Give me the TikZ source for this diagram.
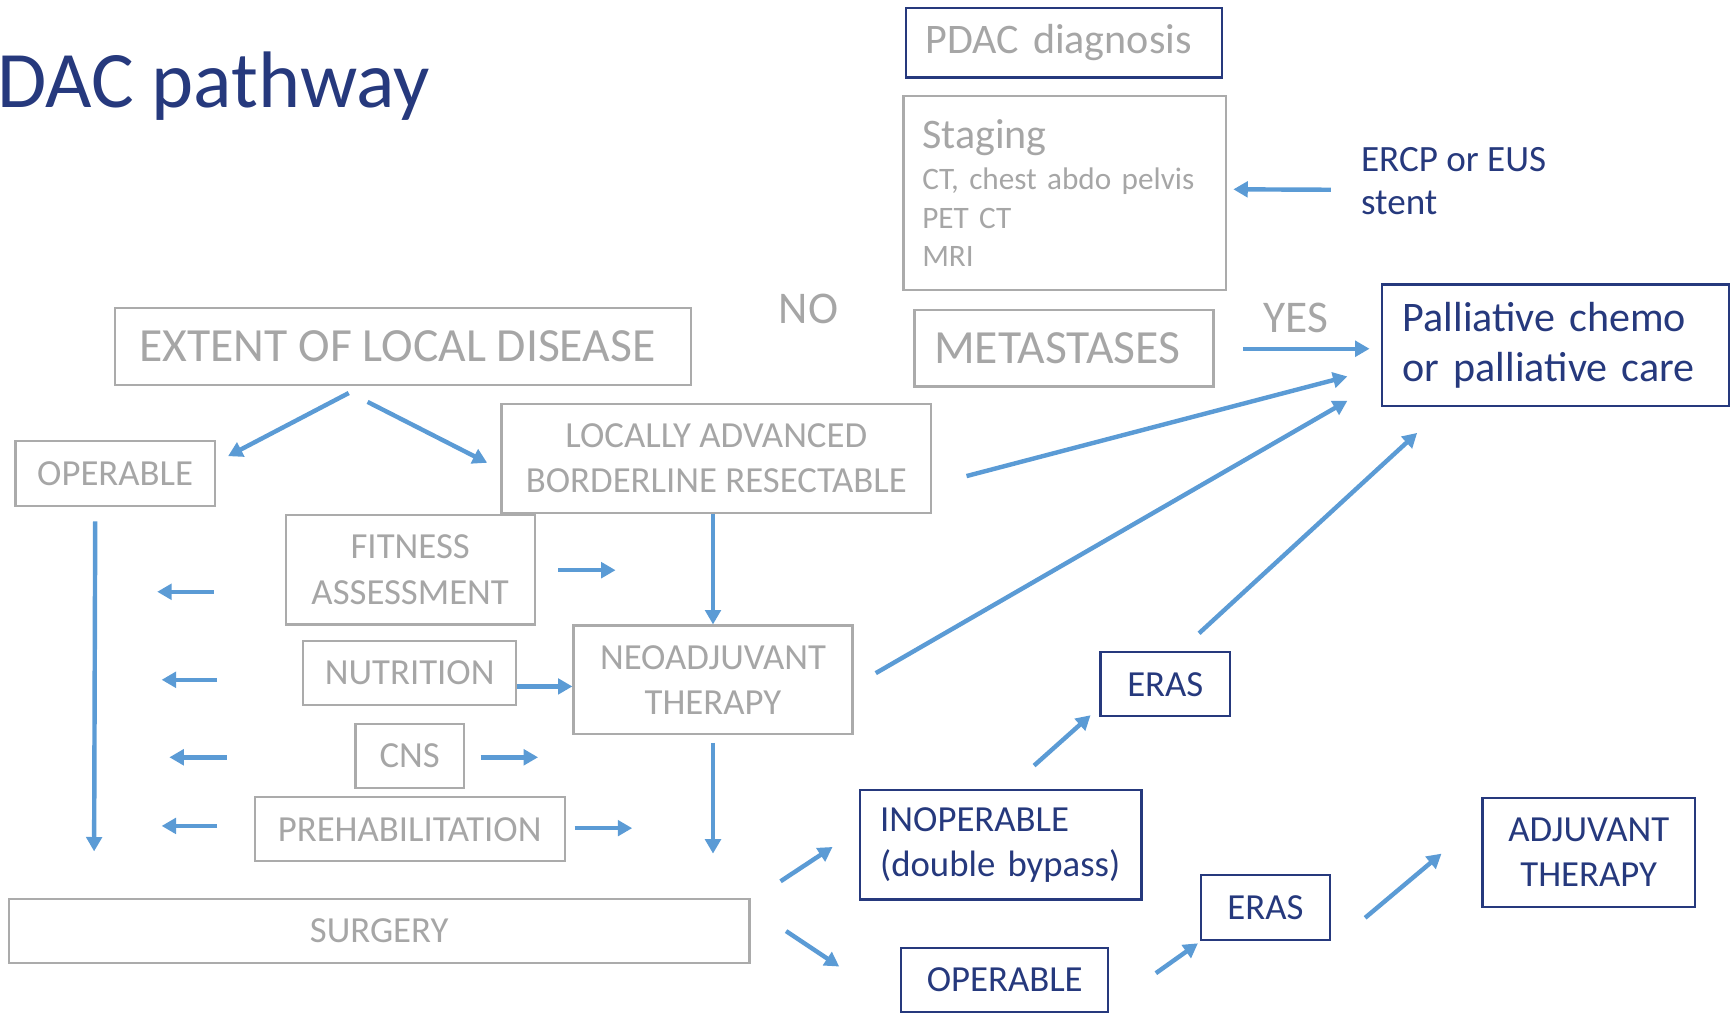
\documentclass[tikz,border=0pt]{standalone}
\usepackage{fontspec}
\setmainfont{Carlito}
\usetikzlibrary{calc,arrows.meta}
\definecolor{gtext}{HTML}{A6A6A6}
\definecolor{gline}{HTML}{ABABAB}
\definecolor{dblue}{RGB}{38,57,125}
\definecolor{ablue}{HTML}{5B9BD5}
\begin{document}
\begin{tikzpicture}[x=0.5pt,y=-0.5pt,
  gbox/.style={draw=gline, line width=1pt, text=gtext, inner sep=0pt, align=center},
  bbox/.style={draw=dblue, line width=1pt, text=dblue, inner sep=0pt, align=center},
  arr/.style={draw=ablue, line width=2pt, -{Triangle[length=6.5pt,width=7pt]}},
  fs/.style={font=\fontsize{16.6}{20.5}\selectfont},
  fb/.style={font=\fontsize{20.5}{24}\selectfont}]
\useasboundingbox (0,0) rectangle (1568,915);

% title
\node[anchor=base west, inner sep=0pt, text=dblue, font=\fontsize{36.2}{42}\selectfont] (title) at (-3,97) {DAC pathway};

% top column
\node[bbox, text=gtext, align=left, inner xsep=9pt, text width=125pt, minimum height=31.5pt,
      font=\fontsize{19}{22}\selectfont] (pdac) at (961,38.5) {PDAC diagnosis};
\node[gbox, align=left, inner xsep=8.5pt, text width=128.5pt, minimum height=87.5pt,
      font=\fontsize{14.1}{17.5}\selectfont] (staging) at (961.5,174.5)
      {{\fontsize{19}{22}\selectfont Staging}\\[1pt]CT, chest abdo pelvis\\PET CT\\MRI};
\node[anchor=north west, align=left, inner sep=0pt, text=dblue,
      font=\fontsize{16.75}{19.5}\selectfont] (ercp) at (1229,133) {ERCP or EUS\\stent};
\node[gbox, font=\fontsize{21.5}{25}\selectfont, minimum width=135pt, minimum height=34.5pt] (meta) at (961,314.5) {METASTASES\hspace*{6pt}};
\node[bbox, align=left, inner xsep=9.5pt, text width=138pt, minimum height=55pt,
      font=\fontsize{19}{22.5}\selectfont] (pall) at (1405,312) {Palliative chemo\\or palliative care};
\node[anchor=base west, inner sep=0pt, text=gtext, fb] (no) at (703,292) {NO};
\node[anchor=base west, inner sep=0pt, text=gtext, fb] (yes) at (1141,300) {YES};

% left part
\node[gbox, font=\fontsize{21.5}{25}\selectfont, minimum width=260pt, minimum height=35pt] (extent) at (364,313) {EXTENT OF LOCAL DISEASE\hspace*{5pt}};
\node[gbox, fs, minimum width=90pt, minimum height=29.5pt] (operL) at (104,427.5) {OPERABLE};
\node[gbox, fs, minimum width=194pt, minimum height=49pt] (LA) at (647,414) {LOCALLY ADVANCED\\BORDERLINE RESECTABLE};
\node[gbox, fs, minimum width=112.5pt, minimum height=49.5pt] (fitness) at (370.5,514.5) {FITNESS\\ASSESSMENT};
\node[gbox, fs, minimum width=126pt, minimum height=49pt] (neo) at (644,614) {NEOADJUVANT\\THERAPY};
\node[gbox, fs, minimum width=96pt, minimum height=29pt] (nutrition) at (370,608) {NUTRITION};
\node[gbox, fs, minimum width=49pt, minimum height=29pt] (cns) at (370,683) {CNS};
\node[gbox, fs, minimum width=140pt, minimum height=29pt] (prehab) at (370,749) {PREHABILITATION};
\node[gbox, fs, minimum width=334.5pt, minimum height=29pt] (surgery) at (342.5,841) {SURGERY};

% right lower part
\node[bbox, fs, align=left, inner xsep=9pt, text width=109pt, minimum height=49.5pt] (inop) at (904,763) {INOPERABLE\\(double bypass)};
\node[bbox, fs, minimum width=93.5pt, minimum height=29pt] (operR) at (907.5,885) {OPERABLE};
\node[bbox, fs, minimum width=58.5pt, minimum height=29pt] (eras1) at (1052.5,618) {ERAS};
\node[bbox, fs, minimum width=58pt, minimum height=29.5pt] (eras2) at (1143,819.5) {ERAS};
\node[bbox, fs, minimum width=96pt, minimum height=49pt] (adj) at (1435,770) {ADJUVANT\\THERAPY};

% arrows
\draw[arr] ($(ercp.west)+(-27,7.5)$) -- ($(staging.east)+(6,-3.5)$);
\draw[arr] ($(meta.east)+(26,0.5)$) -- ($(pall.west)+(-10,3)$);
\draw[arr] ($(extent.south)+(-49,6)$) -- ($(operL.north east)+(11,15)$);
\draw[arr] ($(extent.south)+(-32,14)$) -- ($(LA.west)+(-12,4)$);
\draw[arr] ($(operL.south)+(-18,13)$) -- ($(surgery.north west)+(78,-42)$);
\draw[arr] ($(fitness.west)+(-64,20)$) -- ++(-51,0);
\draw[arr] ($(fitness.east)+(20,0.5)$) -- ++(52,0);
\draw[arr] (neo.north |- LA.south) -- (neo.north);
\draw[arr] ($(nutrition.west)+(-77,6)$) -- ++(-50,0);
\draw[arr] ($(nutrition.east)+(0,12)$) coordinate (nt) -- (nt -| neo.west);
\draw[arr] ($(cns.west)+(-115,1)$) -- ++(-52,0);
\draw[arr] ($(cns.east)+(14,1)$) -- ++(52,0);
\draw[arr] ($(prehab.west)+(-33,-3)$) -- ++(-50,0);
\draw[arr] ($(prehab.east)+(8,-1)$) -- ++(52,0);
\draw[arr] ($(neo.south)+(0,7)$) -- ++(0,100);
\draw[arr] ($(surgery.north east)+(27,-15)$) -- ($(inop.west)+(-24,2)$);
\draw[arr] ($(surgery.east)+(32,0)$) -- ($(operR.west)+(-55,-12)$);
\draw[arr] ($(inop.north)+(30,-21)$) -- ($(eras1.south west)+(-8,-2)$);
\draw[arr] ($(operR.east)+(42,-6)$) -- ($(eras2.south west)+(-2,2)$);
\draw[arr] ($(eras2.east)+(31,9.5)$) -- ($(adj.west)+(-36,1)$);
\draw[arr] ($(eras1.north)+(30.5,-16)$) -- ($(pall.south west)+(33,23)$);
\draw[arr] ($(neo.east)+(20,-6)$) -- ($(pall.west)+(-30,50)$);
\draw[arr] ($(LA.east)+(31,16)$) -- ($(pall.west)+(-30,28)$);
\end{tikzpicture}
\end{document}
